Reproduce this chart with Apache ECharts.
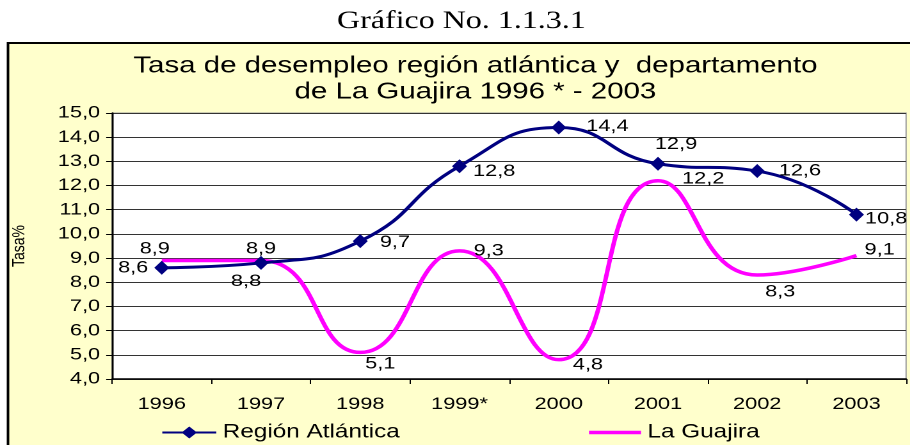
<!DOCTYPE html>
<html>
<head>
<meta charset="utf-8">
<script src="https://cdn.jsdelivr.net/npm/echarts@6/dist/echarts.min.js"></script>
<style>
html,body{margin:0;padding:0;background:#fff;overflow:hidden;}
#wrap{width:910px;height:445px;overflow:hidden;}
#c{height:445px;transform-origin:0 0;}
</style>
</head>
<body>
<div id="wrap"><div id="c"></div></div>
<script>
const categories = ['1996', '1997', '1998', '1999*', '2000', '2001', '2002', '2003'];
const regionAtlantica = [8.6, 8.8, 9.7, 12.8, 14.4, 12.9, 12.6, 10.8];
const laGuajira = [8.9, 8.9, 5.1, 9.3, 4.8, 12.2, 8.3, 9.1];
const yTicks = { min: 4, max: 15, interval: 1 };

// The reference is horizontally stretched; render narrower and stretch.
const S = 1.28;
const W = 910 / S;
const el = document.getElementById('c');
el.style.width = W + 'px';
el.style.transform = 'scaleX(' + S + ')';
const X = px => px / S;

const SANS = 'Liberation Sans';
const fmt = v => v.toFixed(1).replace('.', ',');

// label placement per point (styling only), offsets in screen px
function lab(position, distance, ox, oy) {
  const horiz = position === 'left' || position === 'right';
  return { position, distance: horiz ? X(distance) : distance, offset: [X(ox), oy] };
}
const raLabel = [
  lab('left', 6, 0, 0),
  lab('bottom', 4, -15, -1),
  lab('right', 12, 0, 1),
  lab('right', 6, 0, 5),
  lab('right', 20, 0, -1),
  lab('top', 4, 18, 0),
  lab('right', 14, 0, 0),
  lab('right', 1, 0, 4)
];
const lgLabel = [
  lab('top', 4, -7, 1),
  lab('top', 4, 0, 1),
  lab('bottom', 4, 20, -1),
  lab('right', 14, 0, 0),
  lab('right', 14, 0, 5),
  lab('right', 24, 0, -2),
  lab('bottom', 4, 23, 4),
  lab('right', 8, 0, -6)
];

const labelBase = { show: true, color: '#000', fontFamily: SANS, fontSize: 17, formatter: p => fmt(p.value) };

const chart = echarts.init(el, null, { renderer: 'canvas', devicePixelRatio: 2 });
chart.setOption({
  backgroundColor: '#fff',
  animation: false,
  graphic: [
    { type: 'rect', z: -1, shape: { x: X(8), y: 43, width: W, height: 420 },
      style: { fill: '#FFFFCC', stroke: '#000', lineWidth: 2 } },
    { type: 'rect', z: 3, shape: { x: X(12), y: 420, width: W, height: 30 },
      style: { fill: '#FFFFCC' } }
  ],
  title: [
    { text: 'Gráfico No. 1.1.3.1', left: X(455), textAlign: 'center', top: 4,
      textStyle: { fontFamily: 'Liberation Serif', fontSize: 25, fontWeight: 'normal', color: '#000' } },
    { text: 'Tasa de desempleo región atlántica y  departamento\nde La Guajira 1996 * - 2003',
      left: X(469), textAlign: 'center', top: 48,
      textStyle: { fontFamily: SANS, fontSize: 23, fontWeight: 'normal', color: '#000', lineHeight: 26 } }
  ],
  legend: [
    { data: ['Región Atlántica'], left: X(161), top: 423, itemWidth: X(54), itemHeight: 15, z: 5,
      textStyle: { fontFamily: SANS, fontSize: 19, color: '#000' }, itemGap: 6, padding: 0 },
    { data: [{ name: 'La Guajira', icon: 'rect' }], left: X(589), top: 423, itemWidth: X(52), itemHeight: 3.5, z: 5,
      textStyle: { fontFamily: SANS, fontSize: 19, color: '#000' }, padding: 0 }
  ],
  grid: { left: X(108), right: X(4), top: 113, bottom: 66, show: true, backgroundColor: '#fff', borderColor: '#999', borderWidth: 1 },
  xAxis: {
    type: 'category', data: categories, boundaryGap: true,
    name: 'Años', nameLocation: 'middle', nameGap: 42,
    nameTextStyle: { fontFamily: SANS, fontSize: 13, color: '#000' },
    axisLine: { show: true, lineStyle: { color: '#000', width: 1.5 } },
    axisTick: { show: true, length: 5, alignWithLabel: false, lineStyle: { color: '#000' } },
    axisLabel: { fontFamily: SANS, fontSize: 17, color: '#000', margin: 17 },
    splitLine: { show: false }
  },
  yAxis: {
    type: 'value', min: yTicks.min, max: yTicks.max, interval: yTicks.interval,
    name: 'Tasa%', nameLocation: 'middle', nameGap: X(84), nameRotate: 90,
    nameTextStyle: { fontFamily: SANS, fontSize: 14, color: '#000' },
    axisLine: { show: true, lineStyle: { color: '#000', width: 1.5 } },
    axisTick: { show: true, length: X(6), lineStyle: { color: '#000' } },
    axisLabel: { fontFamily: SANS, fontSize: 17, color: '#000', margin: X(12), formatter: v => fmt(v) },
    splitLine: { show: true, lineStyle: { color: '#333', width: 1 } }
  },
  series: [
    {
      name: 'Región Atlántica', type: 'line', smooth: 0.5,
      data: regionAtlantica.map((v, i) => ({ value: v, label: Object.assign({}, labelBase, raLabel[i]) })),
      symbol: 'diamond', symbolSize: [X(15), 14], showSymbol: true,
      itemStyle: { color: '#000080' },
      lineStyle: { color: '#000080', width: 3 },
      z: 3
    },
    {
      name: 'La Guajira', type: 'line', smooth: 0.5,
      data: laGuajira.map((v, i) => ({ value: v, label: Object.assign({}, labelBase, lgLabel[i]) })),
      symbol: 'circle', symbolSize: 0.1, showSymbol: true,
      itemStyle: { color: '#FF00FF' },
      lineStyle: { color: '#FF00FF', width: 3.5 },
      z: 2
    }
  ]
});
</script>
</body>
</html>
